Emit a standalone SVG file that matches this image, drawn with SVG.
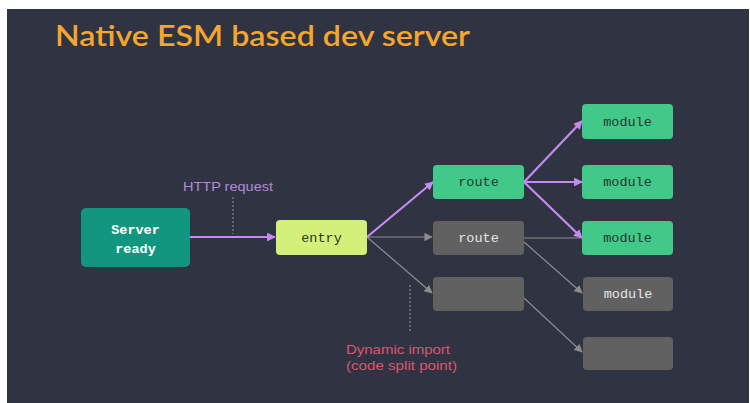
<svg xmlns="http://www.w3.org/2000/svg" width="750" height="403" viewBox="0 0 750 403">
<defs>
<style>
.box text{font-family:"Liberation Mono","DejaVu Sans Mono",monospace;font-size:13.5px;text-anchor:middle}
.green rect{fill:#42c98a}
.green text{fill:#1c3b30}
.gray rect{fill:#616161}
.gray text{fill:#e6e6e6}
.pl{stroke:#c58af0;stroke-width:2.2;fill:none}
.gl{stroke:#8c8c8c;stroke-width:1.2;fill:none}
.lbl{font-family:"Liberation Sans",Arial,sans-serif;font-size:13.5px}
</style>
<marker id="ap" viewBox="0 0 10 10" refX="9" refY="5" markerWidth="4" markerHeight="4" orient="auto" markerUnits="strokeWidth"><path d="M0,0 L10,5 L0,10 z" fill="#c58af0"/></marker>
<marker id="ag" viewBox="0 0 10 10" refX="9" refY="5" markerWidth="7" markerHeight="7" orient="auto" markerUnits="strokeWidth"><path d="M0,0 L10,5 L0,10 z" fill="#8c8c8c"/></marker>
</defs>
<rect x="0" y="0" width="750" height="403" fill="#ffffff"/>
<rect x="7" y="9" width="742" height="394" fill="#303442"/>
<text x="55" y="46" font-family="Lato,'Noto Sans',sans-serif" font-size="29" font-weight="600" fill="#f5a62e" textLength="415" lengthAdjust="spacingAndGlyphs">Native ESM based dev server</text>

<g id="connectors">
<line class="gl" x1="367" y1="237" x2="432" y2="237" marker-end="url(#ag)"/>
<line class="gl" x1="367" y1="237" x2="432" y2="293" marker-end="url(#ag)"/>
<line class="gl" x1="524" y1="238" x2="580" y2="238"/>
<line class="gl" x1="524" y1="242" x2="582" y2="293" marker-end="url(#ag)"/>
<line class="gl" x1="524" y1="298" x2="582" y2="352" marker-end="url(#ag)"/>
<line class="pl" x1="190" y1="237" x2="275" y2="237" marker-end="url(#ap)"/>
<line class="pl" x1="367" y1="237" x2="433" y2="182" marker-end="url(#ap)"/>
<line class="pl" x1="524" y1="182" x2="582" y2="121" marker-end="url(#ap)"/>
<line class="pl" x1="524" y1="182" x2="582" y2="182" marker-end="url(#ap)"/>
<line class="pl" x1="524" y1="182" x2="582" y2="238" marker-end="url(#ap)"/>
<line x1="233" y1="197" x2="233" y2="234" stroke="#9a9aa0" stroke-width="1" stroke-dasharray="2,2"/>
<line x1="410" y1="285" x2="410" y2="333" stroke="#9a9aa0" stroke-width="1" stroke-dasharray="2,2"/>
</g>

<text class="lbl" x="183" y="191" fill="#b48ad8" textLength="90" lengthAdjust="spacingAndGlyphs">HTTP request</text>
<text class="lbl" x="346" y="354" fill="#dc5470" textLength="104" lengthAdjust="spacingAndGlyphs">Dynamic import</text>
<text class="lbl" x="346" y="370" fill="#dc5470" textLength="111" lengthAdjust="spacingAndGlyphs">(code split point)</text>

<g id="server" class="box">
<rect x="81" y="208" width="109" height="59" rx="5" fill="#13967f"/>
<text x="135.5" y="234" fill="#ffffff" font-weight="bold" font-size="16.5">Server</text>
<text x="135.5" y="253" fill="#ffffff" font-weight="bold" font-size="16.5">ready</text>
</g>
<g id="entry" class="box">
<rect x="276" y="220" width="91" height="35" rx="4" fill="#d3f07a"/>
<text x="321.5" y="242" fill="#2b3a1c">entry</text>
</g>
<g id="route1" class="box green">
<rect x="433" y="165" width="91" height="34" rx="4"/>
<text x="478.5" y="186">route</text>
</g>
<g id="route2" class="box gray">
<rect x="433" y="221" width="91" height="34" rx="4"/>
<text x="478.5" y="242">route</text>
</g>
<g id="route3" class="box gray">
<rect x="433" y="277" width="91" height="34" rx="4"/>
</g>
<g id="module1" class="box green">
<rect x="582" y="104" width="91" height="35" rx="4"/>
<text x="627.5" y="126">module</text>
</g>
<g id="module2" class="box green">
<rect x="582" y="165" width="91" height="34" rx="4"/>
<text x="627.5" y="186">module</text>
</g>
<g id="module3" class="box green">
<rect x="582" y="221" width="91" height="34" rx="4"/>
<text x="627.5" y="242">module</text>
</g>
<g id="module4" class="box gray">
<rect x="583" y="277" width="90" height="34" rx="4"/>
<text x="628" y="298">module</text>
</g>
<g id="module5" class="box gray">
<rect x="583" y="337" width="90" height="33" rx="4"/>
</g>
</svg>
